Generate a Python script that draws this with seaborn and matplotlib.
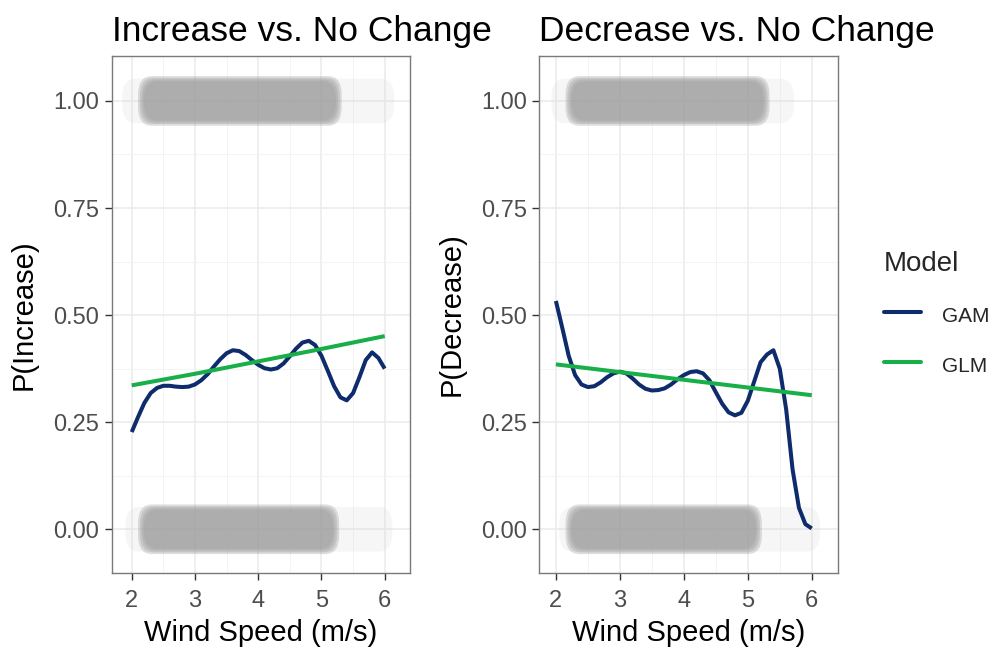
import numpy as np
import pandas as pd
import matplotlib
matplotlib.use("Agg")
import matplotlib.pyplot as plt
from matplotlib.lines import Line2D
from matplotlib.patches import FancyBboxPatch
from matplotlib.ticker import MultipleLocator
import seaborn as sns

# ---------------- data ----------------
wind_gam = [2.0, 2.1, 2.2, 2.3, 2.4, 2.5, 2.6, 2.7, 2.8, 2.9,
            3.0, 3.1, 3.2, 3.3, 3.4, 3.5, 3.6, 3.7, 3.8, 3.9,
            4.0, 4.1, 4.2, 4.3, 4.4, 4.5, 4.6, 4.7, 4.8, 4.9,
            5.0, 5.1, 5.2, 5.3, 5.4, 5.5, 5.6, 5.7, 5.8, 5.9, 6.0]
inc_gam = [0.227, 0.262, 0.295, 0.318, 0.330, 0.335, 0.335, 0.333, 0.332, 0.333,
           0.338, 0.348, 0.362, 0.380, 0.397, 0.411, 0.418, 0.416, 0.407, 0.395,
           0.384, 0.376, 0.373, 0.376, 0.387, 0.404, 0.422, 0.436, 0.440, 0.430,
           0.405, 0.370, 0.334, 0.308, 0.301, 0.318, 0.355, 0.395, 0.413, 0.400, 0.375]
dec_gam = [0.533, 0.470, 0.405, 0.360, 0.338, 0.332, 0.334, 0.343, 0.355, 0.364,
           0.368, 0.364, 0.352, 0.338, 0.328, 0.324, 0.325, 0.329, 0.338, 0.350,
           0.360, 0.367, 0.369, 0.364, 0.348, 0.320, 0.293, 0.273, 0.266, 0.272,
           0.300, 0.345, 0.390, 0.408, 0.418, 0.375, 0.280, 0.140, 0.050, 0.012, 0.002]

wind_glm = [2.0, 3.0, 4.0, 5.0, 6.0]
inc_glm = [0.336, 0.363, 0.392, 0.421, 0.451]
dec_glm = [0.385, 0.367, 0.349, 0.331, 0.313]

# observed 0/1 outcomes shown as jittered clouds: (outcome, core x-range, fringe x-range)
inc_clouds = [(1.0, (2.10, 5.32), (1.85, 6.15)), (0.0, (2.10, 5.28), (1.90, 6.12))]
dec_clouds = [(1.0, (2.15, 5.34), (1.93, 5.72)), (0.0, (2.15, 5.22), (2.05, 6.13))]
jitter_half = 0.058

titles = ["Increase vs. No Change", "Decrease vs. No Change"]
ylabels = ["P(Increase)", "P(Decrease)"]
xlabel = "Wind Speed (m/s)"
model_names = ["GAM", "GLM"]
colors = {"GAM": "#0E2C6B", "GLM": "#18AE48"}

# ---------------- style ----------------
sns.set_theme(style="white")
plt.rcParams["font.family"] = ["Liberation Sans", "DejaVu Sans"]

fig = plt.figure(figsize=(10.02, 6.5), dpi=100)
ax_pos = [[0.1115, 0.1185, 0.2977, 0.7954], [0.5382, 0.1185, 0.2981, 0.7954]]
xlims = [(1.684, 6.40), (1.74, 6.41)]

panels = [(inc_gam, inc_glm, inc_clouds), (dec_gam, dec_glm, dec_clouds)]


def soft_box(ax, x0, x1, yc, h, color, alpha):
    box = FancyBboxPatch((x0, yc - h), x1 - x0, 2 * h,
                         boxstyle="round,pad=0,rounding_size=0.22",
                         mutation_aspect=0.2, facecolor=color, edgecolor="none",
                         alpha=alpha, zorder=1)
    ax.add_patch(box)


for i, (gam, glm, clouds) in enumerate(panels):
    ax = fig.add_axes(ax_pos[i])
    ax.set_xlim(*xlims[i])
    ax.set_ylim(-0.102, 1.105)
    ax.xaxis.set_major_locator(MultipleLocator(1))
    ax.xaxis.set_minor_locator(MultipleLocator(0.5))
    ax.yaxis.set_major_locator(MultipleLocator(0.25))
    ax.yaxis.set_minor_locator(MultipleLocator(0.125))
    ax.grid(which="major", color="#EBEBEB", linewidth=1.1)
    ax.grid(which="minor", color="#F3F3F3", linewidth=0.6)
    ax.set_axisbelow(True)

    # jittered point clouds
    for yv, core, fringe in clouds:
        soft_box(ax, fringe[0], fringe[1], yv, jitter_half * 0.9, "#D4D4D4", 0.2)
        for k in range(4):
            dx = 0.03 * k
            dy = 0.004 * k
            soft_box(ax, core[0] + dx, core[1] - dx, yv, jitter_half - dy,
                     "#9C9C9C", 0.33)

    df = pd.DataFrame({
        "wind": list(wind_gam) + list(wind_glm),
        "p": list(gam) + list(glm),
        "Model": ["GAM"] * len(wind_gam) + ["GLM"] * len(wind_glm),
    })
    sns.lineplot(data=df, x="wind", y="p", hue="Model", palette=colors,
                 linewidth=2.9, ax=ax, legend=False, zorder=3,
                 solid_capstyle="butt")

    ax.set_yticks([0, 0.25, 0.5, 0.75, 1.0])
    ax.set_yticklabels(["0.00", "0.25", "0.50", "0.75", "1.00"])
    ax.set_xticks([2, 3, 4, 5, 6])
    ax.tick_params(axis="both", which="major", direction="out", length=5,
                   width=1, color="#333333", labelcolor="#4D4D4D",
                   labelsize=17, bottom=True, left=True)
    ax.tick_params(axis="y", pad=4)
    ax.tick_params(axis="x", pad=7.5)
    ax.tick_params(which="minor", length=0)
    for s in ax.spines.values():
        s.set_color("#7A7A7A")
        s.set_linewidth(1.0)
    ax.set_xlabel(xlabel, fontsize=21, color="black", labelpad=5)
    ax.set_ylabel(ylabels[i], fontsize=21, color="black", labelpad=11)
    ax.set_title(titles[i], loc="left", fontsize=25.5, color="black", pad=11)

handles = [Line2D([0], [0], color=colors[m], linewidth=2.9) for m in model_names]
leg = fig.legend(handles, model_names, title="Model", loc="upper left",
                 bbox_to_anchor=(0.870, 0.633), frameon=False, fontsize=15,
                 title_fontsize=20, handlelength=1.75, handletextpad=1.0,
                 labelspacing=1.2, handleheight=1.5, borderpad=0.1,
                 alignment="left")

fig.savefig("out.png", dpi=100)
